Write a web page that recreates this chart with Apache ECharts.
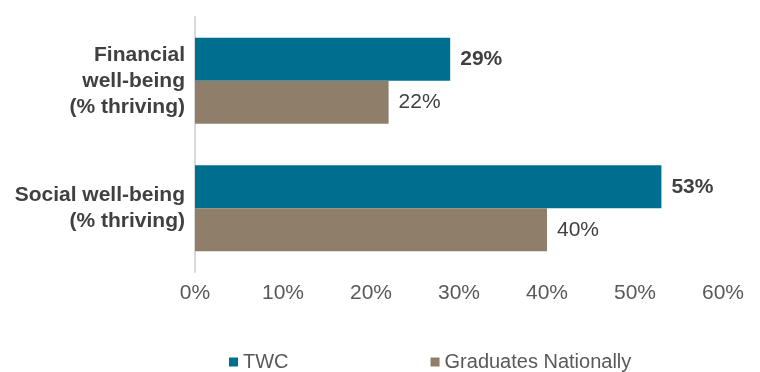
<!DOCTYPE html>
<html>
<head>
<meta charset="utf-8">
<script src="https://cdn.jsdelivr.net/npm/echarts@6/dist/echarts.min.js"></script>
<style>
  html, body { margin: 0; padding: 0; background: #fff; }
  #chart { width: 760px; height: 372px; }
</style>
</head>
<body>
<div id="chart"></div>
<script>
// Well-being measures, % thriving
const categories = ['Financial\nwell-being\n(% thriving)', 'Social well-being\n(% thriving)'];
const twcValues = [29, 53];
const nationalValues = [22, 40];
const seriesNames = ['TWC', 'Graduates Nationally'];
const xTicks = { min: 0, max: 60, interval: 10 };

const chart = echarts.init(document.getElementById('chart'), null, { renderer: 'canvas' });
const font = '"Liberation Sans", Arial, Helvetica, sans-serif';

chart.setOption({
  animation: false,
  textStyle: { fontFamily: font },
  grid: { left: 195, right: 37, top: 17, bottom: 100, containLabel: false },
  legend: {
    top: 347,
    left: 224,
    itemWidth: 9,
    itemHeight: 9,
    itemGap: 142,
    icon: 'rect',
    textStyle: { fontFamily: font, fontSize: 20, color: '#595959' },
    data: seriesNames
  },
  xAxis: {
    type: 'value',
    min: xTicks.min,
    max: xTicks.max,
    interval: xTicks.interval,
    axisLine: { show: false },
    axisTick: { show: false },
    splitLine: { show: false },
    axisLabel: {
      formatter: '{value}%',
      fontFamily: font,
      fontSize: 21,
      color: '#595959',
      margin: 11
    }
  },
  yAxis: {
    type: 'category',
    inverse: true,
    data: categories,
    axisLine: { show: true, lineStyle: { color: '#d9d9d9', width: 2 } },
    axisTick: { show: false },
    axisLabel: {
      fontFamily: font,
      fontSize: 21,
      fontWeight: 'bold',
      color: '#404040',
      lineHeight: 26,
      align: 'right',
      margin: 10
    }
  },
  series: [
    {
      name: seriesNames[0],
      type: 'bar',
      data: twcValues,
      barWidth: 43,
      barGap: '0%',
      itemStyle: { color: '#006f8f' },
      label: {
        show: true,
        position: 'right',
        distance: 10,
        formatter: '{c}%',
        fontFamily: font,
        fontSize: 21,
        fontWeight: 'bold',
        color: '#404040'
      }
    },
    {
      name: seriesNames[1],
      type: 'bar',
      data: nationalValues,
      barWidth: 43,
      barGap: '0%',
      itemStyle: { color: '#8f7f6a' },
      label: {
        show: true,
        position: 'right',
        distance: 10,
        formatter: '{c}%',
        fontFamily: font,
        fontSize: 21,
        color: '#404040'
      }
    }
  ]
});
</script>
</body>
</html>
